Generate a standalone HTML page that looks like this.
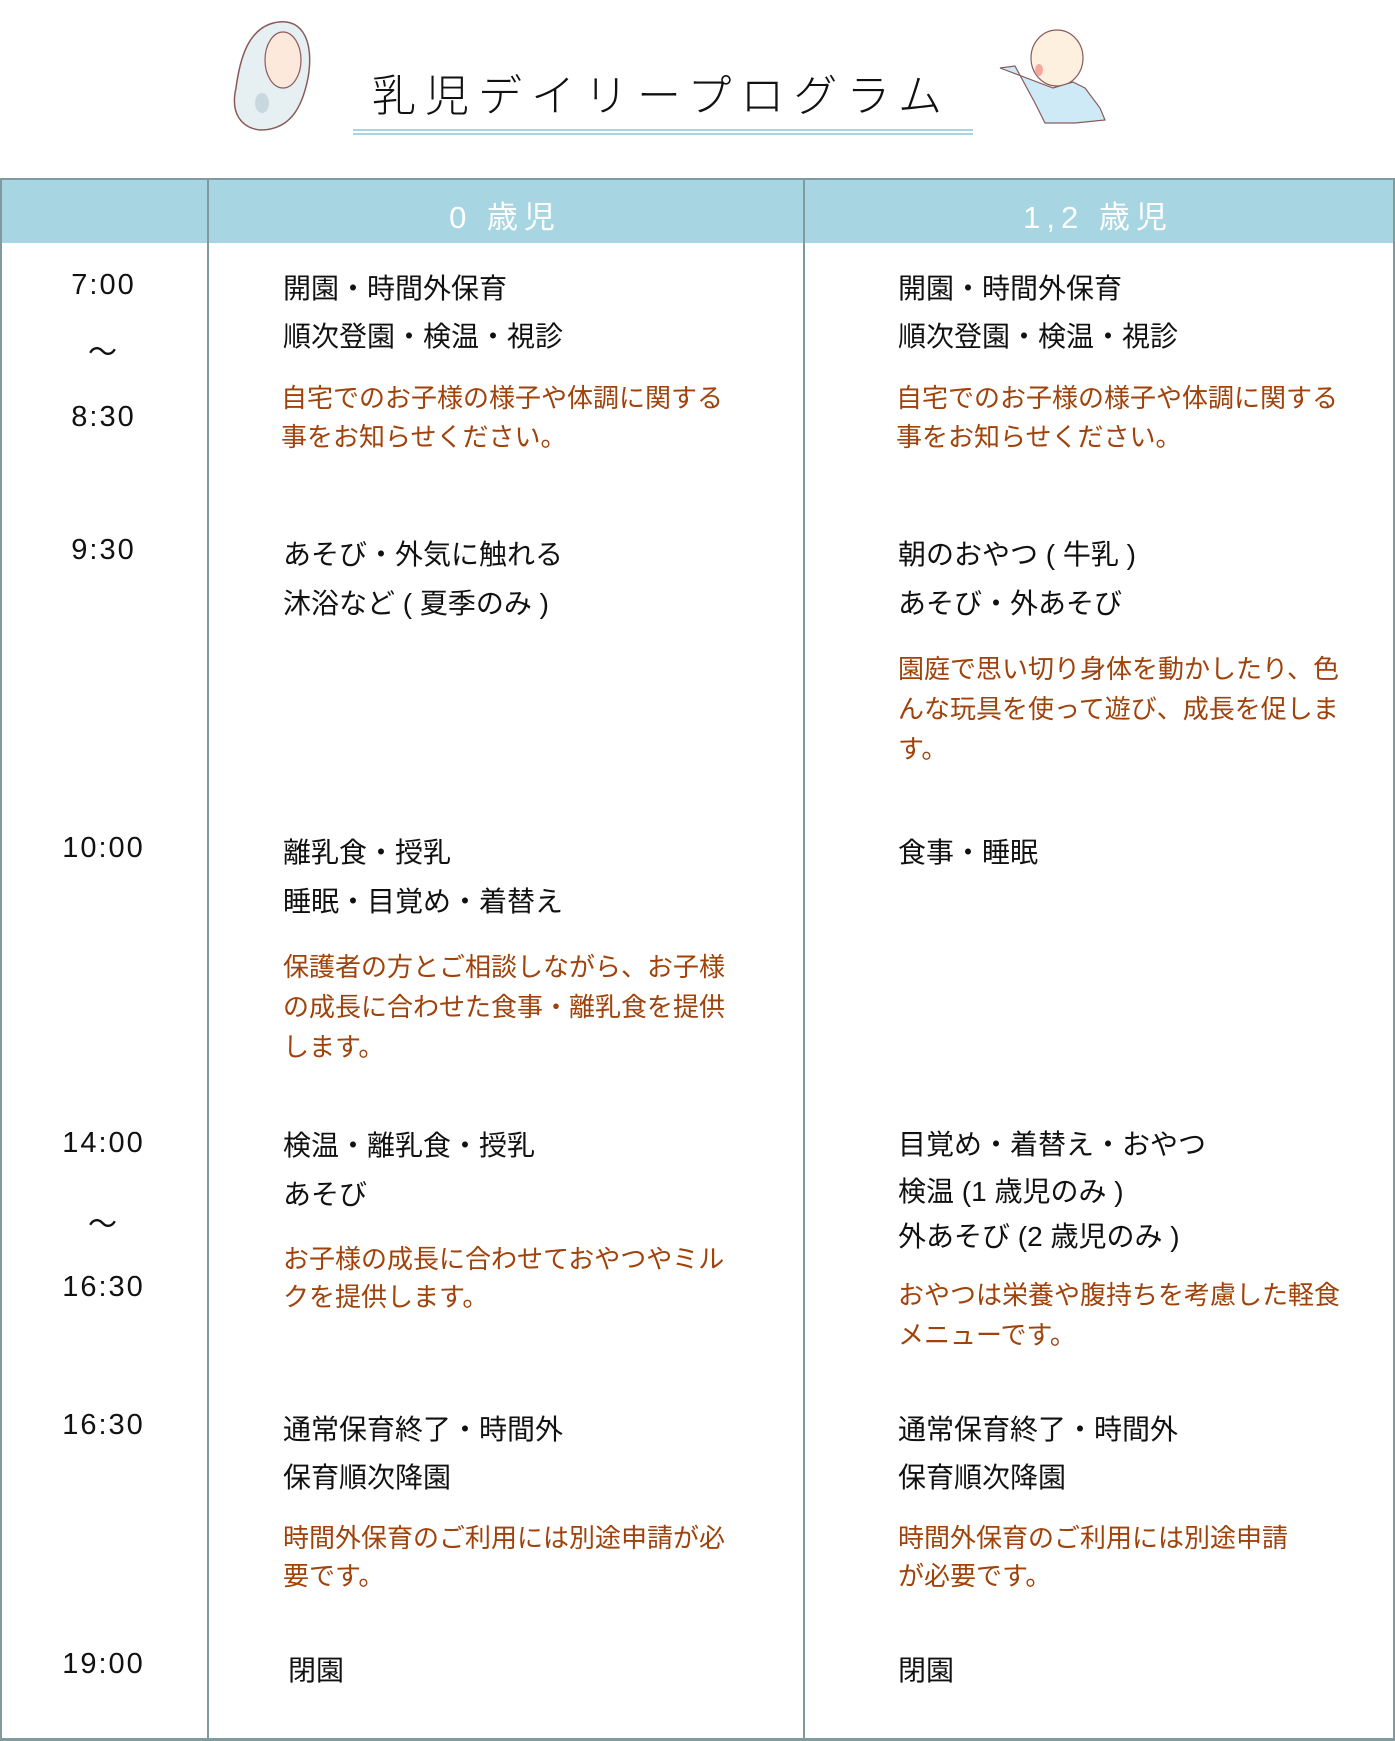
<!DOCTYPE html>
<html><head><meta charset="utf-8"><style>
body{margin:0;width:1395px;height:1741px;background:#fff;position:relative;overflow:hidden;font-family:"Liberation Sans","Noto Sans CJK JP",sans-serif;}
.t{position:absolute;font-size:28px;line-height:34px;color:#111;white-space:nowrap;}
.r{color:#a0420a;font-size:26px;}
.tm{position:absolute;font-size:29px;letter-spacing:2px;line-height:34px;color:#111;width:207px;text-align:center;left:0;}
.v{position:absolute;top:178px;width:2px;height:1562px;background:#7f9b9d;}
</style></head><body>
<svg style="position:absolute;left:230px;top:18px" width="100" height="118" viewBox="0 0 100 118">
<path d="M40 6 C70 -4 85 20 78 60 C72 90 60 112 30 112 C12 110 0 96 6 70 C10 40 18 14 40 6Z" fill="#e6f0f2" stroke="#8a5a5a" stroke-width="1.5"/>
<ellipse cx="53" cy="42" rx="18" ry="28" fill="#fde8dc" stroke="#8a5a5a" stroke-width="1.2"/>
<ellipse cx="32" cy="85" rx="7" ry="10" fill="#c7d9de"/>
</svg>
<svg style="position:absolute;left:995px;top:28px" width="122" height="98" viewBox="0 0 122 98">
<ellipse cx="62" cy="30" rx="26" ry="28" fill="#fdf0df" stroke="#8a5a5a" stroke-width="1.2"/>
<ellipse cx="44" cy="42" rx="4" ry="6" fill="#f4a8a0"/>
<path d="M5 40 L20 38 L40 75 L50 95 L80 95 L110 92 L105 80 L90 60 L78 54 L58 60 Z" fill="#cfeaf7" stroke="#8a5a5a" stroke-width="1.2"/>
</svg>
<div style="position:absolute;left:372px;top:70px;font-size:44px;letter-spacing:9px;line-height:54px;color:#111;font-weight:300">乳児デイリープログラム</div>
<div style="position:absolute;left:353px;top:129px;width:620px;height:2px;background:#a8d5e2"></div>
<div style="position:absolute;left:353px;top:133px;width:620px;height:2px;background:#a8d5e2"></div>
<div style="position:absolute;left:0;top:178px;width:1395px;height:65px;background:#a8d5e2"></div>
<div style="position:absolute;left:0;top:178px;width:1395px;height:2px;background:#7f9b9d"></div>
<div style="position:absolute;left:0;top:1738px;width:1395px;height:3px;background:#7f9b9d"></div>
<div class="v" style="left:0"></div><div class="v" style="left:207px"></div><div class="v" style="left:803px"></div><div class="v" style="left:1393px"></div>
<div style="position:absolute;left:207px;width:596px;top:192px;text-align:center;color:#fff;font-size:31px;letter-spacing:6px">0 歳児</div>
<div style="position:absolute;left:803px;width:590px;top:192px;text-align:center;color:#fff;font-size:31px;letter-spacing:6px">1,2 歳児</div>

<div class="tm" style="top:268px">7:00</div>
<div class="tm" style="top:336px">～</div>
<div class="tm" style="top:400px">8:30</div>
<div class="tm" style="top:533px">9:30</div>
<div class="tm" style="top:831px">10:00</div>
<div class="tm" style="top:1126px">14:00</div>
<div class="tm" style="top:1208px">～</div>
<div class="tm" style="top:1270px">16:30</div>
<div class="tm" style="top:1408px">16:30</div>
<div class="tm" style="top:1647px">19:00</div>

<div class="t" style="left:283px;top:272px">開園・時間外保育</div>
<div class="t" style="left:283px;top:320px">順次登園・検温・視診</div>
<div class="t r" style="left:281px;top:381px">自宅でのお子様の様子や体調に関する</div>
<div class="t r" style="left:281px;top:420px">事をお知らせください。</div>
<div class="t" style="left:898px;top:272px">開園・時間外保育</div>
<div class="t" style="left:898px;top:320px">順次登園・検温・視診</div>
<div class="t r" style="left:896px;top:381px">自宅でのお子様の様子や体調に関する</div>
<div class="t r" style="left:896px;top:420px">事をお知らせください。</div>

<div class="t" style="left:283px;top:538px">あそび・外気に触れる</div>
<div class="t" style="left:283px;top:587px">沐浴など ( 夏季のみ )</div>
<div class="t" style="left:898px;top:538px">朝のおやつ ( 牛乳 )</div>
<div class="t" style="left:898px;top:587px">あそび・外あそび</div>
<div class="t r" style="left:898px;top:652px">園庭で思い切り身体を動かしたり、色</div>
<div class="t r" style="left:898px;top:692px">んな玩具を使って遊び、成長を促しま</div>
<div class="t r" style="left:898px;top:732px">す。</div>

<div class="t" style="left:283px;top:836px">離乳食・授乳</div>
<div class="t" style="left:283px;top:885px">睡眠・目覚め・着替え</div>
<div class="t r" style="left:283px;top:950px">保護者の方とご相談しながら、お子様</div>
<div class="t r" style="left:283px;top:990px">の成長に合わせた食事・離乳食を提供</div>
<div class="t r" style="left:283px;top:1030px">します。</div>
<div class="t" style="left:898px;top:836px">食事・睡眠</div>

<div class="t" style="left:283px;top:1129px">検温・離乳食・授乳</div>
<div class="t" style="left:283px;top:1178px">あそび</div>
<div class="t r" style="left:283px;top:1242px">お子様の成長に合わせておやつやミル</div>
<div class="t r" style="left:283px;top:1280px">クを提供します。</div>
<div class="t" style="left:898px;top:1128px">目覚め・着替え・おやつ</div>
<div class="t" style="left:898px;top:1175px">検温 (1 歳児のみ )</div>
<div class="t" style="left:898px;top:1220px">外あそび (2 歳児のみ )</div>
<div class="t r" style="left:898px;top:1278px">おやつは栄養や腹持ちを考慮した軽食</div>
<div class="t r" style="left:898px;top:1318px">メニューです。</div>

<div class="t" style="left:283px;top:1413px">通常保育終了・時間外</div>
<div class="t" style="left:283px;top:1461px">保育順次降園</div>
<div class="t r" style="left:283px;top:1521px">時間外保育のご利用には別途申請が必</div>
<div class="t r" style="left:283px;top:1559px">要です。</div>
<div class="t" style="left:898px;top:1413px">通常保育終了・時間外</div>
<div class="t" style="left:898px;top:1461px">保育順次降園</div>
<div class="t r" style="left:898px;top:1521px">時間外保育のご利用には別途申請</div>
<div class="t r" style="left:898px;top:1559px">が必要です。</div>

<div class="t" style="left:288px;top:1654px">閉園</div>
<div class="t" style="left:898px;top:1654px">閉園</div>
</body></html>
